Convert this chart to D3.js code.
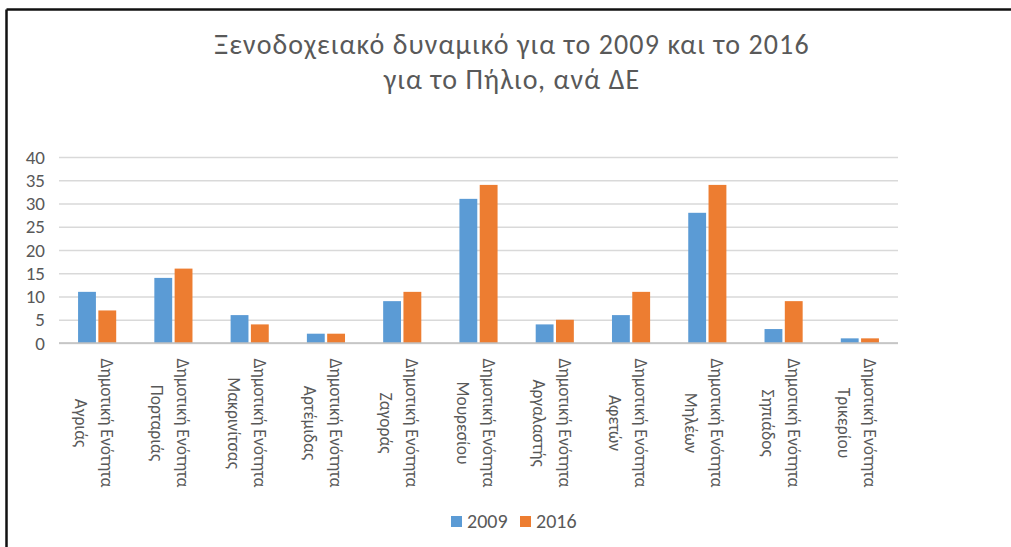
<!DOCTYPE html>
<html>
<head>
<meta charset="utf-8">
<script src="https://cdn.jsdelivr.net/npm/d3@7/dist/d3.min.js"></script>
<style>
  html, body { margin: 0; padding: 0; background: #fff; }
  svg { display: block; }
  text { font-family: "Carlito", "Noto Sans", "Open Sans", sans-serif; fill: #595959; }
</style>
</head>
<body>
<svg id="chart" width="1011" height="547"></svg>
<script>
// Hotel capacity per municipal unit of Pelion, 2009 vs 2016
const unitPrefix = "Δημοτική Ενότητα";
const units = ["Αγριάς", "Πορταριάς", "Μακρινίτσας", "Αρτέμιδας", "Ζαγοράς", "Μουρεσίου",
               "Αργαλαστής", "Αφετών", "Μηλέων", "Σηπιάδος", "Τρικερίου"];
const series = ["2009", "2016"];
const values2009 = [11, 14, 6, 2, 9, 31, 4, 6, 28, 3, 1];
const values2016 = [7, 16, 4, 2, 11, 34, 5, 11, 34, 9, 1];
const yTicks = [0, 5, 10, 15, 20, 25, 30, 35, 40];
const titleLines = ["Ξενοδοχειακό δυναμικό για το 2009 και το 2016", "για το Πήλιο, ανά ΔΕ"];
const colors = { "2009": "#5B9BD5", "2016": "#ED7D31" };

const svg = d3.select("#chart");
const W = 1011, H = 547;

// outer frame (top and left edges)
svg.append("line").attr("x1", 6.5).attr("x2", W).attr("y1", 9.5).attr("y2", 9.5)
  .attr("stroke", "#111").attr("stroke-width", 2.5);
svg.append("line").attr("x1", 6.5).attr("x2", 6.5).attr("y1", 9.5).attr("y2", H)
  .attr("stroke", "#111").attr("stroke-width", 2.5);

const plot = { left: 59, right: 898, top: 157, bottom: 343 };

const x0 = d3.scaleBand().domain(units).range([plot.left, plot.right]).padding(0);
const x1 = d3.scaleBand().domain(series)
  .range([x0.bandwidth() * 0.25, x0.bandwidth() * 0.75]).paddingInner(0.12);
const y = d3.scaleLinear().domain([0, 40]).range([plot.bottom, plot.top]);

// title, one text per line
svg.append("g").selectAll("text").data(titleLines).join("text")
  .attr("text-anchor", "middle").attr("font-size", 28)
  .attr("letter-spacing", 1.1)
  .attr("x", 512).attr("y", (d, i) => 54 + i * 35)
  .text(d => d);

// gridlines + y labels
const yAxis = d3.axisLeft(y).tickValues(yTicks).tickSize(-(plot.right - plot.left)).tickPadding(14);
const gy = svg.append("g").attr("transform", `translate(${plot.left},0)`).call(yAxis);
gy.select(".domain").remove();
gy.selectAll(".tick line").attr("stroke", "#D9D9D9").attr("stroke-width", 1.3);
gy.selectAll(".tick text").attr("font-size", 19).attr("fill", "#595959")
  .style("font-family", '"Carlito", "Noto Sans", sans-serif');

// bars
const rows = units.map((u, i) => ({ unit: u, "2009": values2009[i], "2016": values2016[i] }));
const groups = svg.append("g").selectAll("g").data(rows).join("g")
  .attr("transform", d => `translate(${x0(d.unit)},0)`);
groups.selectAll("rect").data(d => series.map(s => ({ s, v: d[s] }))).join("rect")
  .attr("x", d => x1(d.s)).attr("width", x1.bandwidth())
  .attr("y", d => y(d.v)).attr("height", d => y(0) - y(d.v))
  .attr("fill", d => colors[d.s]);

// baseline
svg.append("line").attr("x1", plot.left).attr("x2", plot.right)
  .attr("y1", y(0)).attr("y2", y(0)).attr("stroke", "#BFBFBF").attr("stroke-width", 1.3);

// category labels, rotated to read downward
const labels = svg.append("g").selectAll("text").data(units).join("text")
  .attr("text-anchor", "middle").attr("font-size", 17.5)
  .attr("transform", d => `translate(${x0(d) + x0.bandwidth() / 2},423) rotate(90)`);
labels.append("tspan").attr("x", 0).attr("y", -4).text(unitPrefix);
labels.append("tspan").attr("x", 0).attr("y", 22).text(d => d);

// legend
const legend = svg.append("g").attr("transform", "translate(451,516)");
const li = legend.selectAll("g").data(series).join("g")
  .attr("transform", (d, i) => `translate(${i * 69},0)`);
li.append("rect").attr("width", 11).attr("height", 11).attr("fill", d => colors[d]);
li.append("text").attr("x", 16).attr("y", 12).attr("font-size", 20).text(d => d);
</script>
</body>
</html>
